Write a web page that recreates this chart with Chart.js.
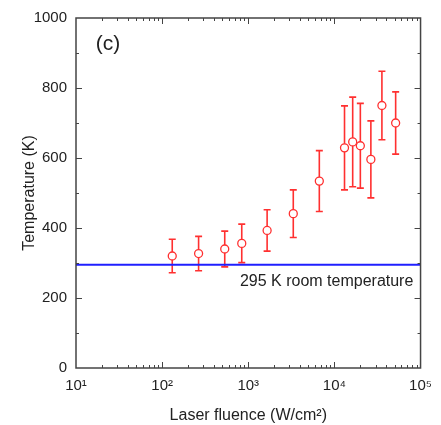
<!DOCTYPE html>
<html>
<head>
<meta charset="utf-8">
<script src="https://cdn.jsdelivr.net/npm/chart.js@4.4.1/dist/chart.umd.min.js"></script>
<style>
  html, body { margin: 0; padding: 0; background: #fff; }
  #wrap { width: 441px; height: 425px; }
</style>
</head>
<body>
<div id="wrap"><canvas id="tempChart"></canvas></div>
<script>
// values
const fluence = [131, 265, 533, 840, 1655, 3330, 6680, 13100, 16300, 20000, 26500, 35600, 51400];
const temperature = [320, 327, 340, 356, 393, 441, 534, 629, 646, 635, 596, 750, 700];
const tempError = [48, 49, 51, 55, 59, 68, 87, 120, 128, 121, 110, 98, 89];
const roomTemp = 295;
const xDecades = [10, 100, 1000, 10000, 100000];
const xDecadeLabels = ['10\u00b9', '10\u00b2', '10\u00b3', '10\u2074', '10\u2075'];
const yTicks = [0, 200, 400, 600, 800, 1000];

const red = '#ff3030';
const axisColor = '#444';
const fontFamily = "'Liberation Sans', Arial, sans-serif";

const errorBars = {
  id: 'errorBars',
  beforeDatasetsDraw(chart) {
    const ctx = chart.ctx;
    const x = chart.scales.x, y = chart.scales.y;
    ctx.save();
    ctx.strokeStyle = red;
    ctx.lineWidth = 1.6;
    fluence.forEach(function (f, i) {
      const px = x.getPixelForValue(f);
      const top = y.getPixelForValue(temperature[i] + tempError[i]);
      const bot = y.getPixelForValue(temperature[i] - tempError[i]);
      ctx.beginPath();
      ctx.moveTo(px, top); ctx.lineTo(px, bot);
      ctx.moveTo(px - 3.5, top); ctx.lineTo(px + 3.5, top);
      ctx.moveTo(px - 3.5, bot); ctx.lineTo(px + 3.5, bot);
      ctx.stroke();
    });
    ctx.restore();
  }
};

const frameAndTicks = {
  id: 'frameAndTicks',
  afterDraw(chart) {
    const ctx = chart.ctx;
    const a = chart.chartArea;
    const x = chart.scales.x, y = chart.scales.y;
    ctx.save();
    ctx.strokeStyle = axisColor;
    ctx.lineWidth = 1.5;
    ctx.strokeRect(a.left, a.top, a.right - a.left, a.bottom - a.top);
    ctx.lineWidth = 1;
    ctx.beginPath();
    // x ticks, inward, bottom and top
    xDecades.forEach(function (d, k) {
      for (let m = 1; m <= 9; m++) {
        const v = d * m;
        if (v > 100000 || (m === 1 && k === 0) || (m === 1 && k === xDecades.length - 1)) continue;
        const px = Math.round(x.getPixelForValue(v)) + 0.5;
        const len = m === 1 ? 6 : 3;
        ctx.moveTo(px, a.bottom); ctx.lineTo(px, a.bottom - len);
        ctx.moveTo(px, a.top); ctx.lineTo(px, a.top + len);
      }
    });
    // y ticks, inward, left and right
    for (let v = 100; v < 1000; v += 100) {
      const py = Math.round(y.getPixelForValue(v)) + 0.5;
      const len = v % 200 === 0 ? 6 : 3;
      ctx.moveTo(a.left, py); ctx.lineTo(a.left + len, py);
      ctx.moveTo(a.right, py); ctx.lineTo(a.right - len, py);
    }
    ctx.stroke();

    ctx.fillStyle = '#222';
    ctx.font = '21px ' + fontFamily;
    ctx.textBaseline = 'middle';
    ctx.fillText('(c)', x.getPixelForValue(17), y.getPixelForValue(924));
    ctx.font = '16px ' + fontFamily;
    ctx.fillText('295 K room temperature', x.getPixelForValue(800), y.getPixelForValue(246));
    ctx.restore();
  }
};

const ctx = document.getElementById('tempChart').getContext('2d');
const tempChart = new Chart(ctx, {
  type: 'scatter',
  data: {
    datasets: [{
      label: 'Temperature',
      data: fluence.map(function (f, i) { return { x: f, y: temperature[i] }; }),
      pointStyle: 'circle',
      pointRadius: 4,
      pointBorderWidth: 1.3,
      pointBorderColor: red,
      pointBackgroundColor: '#fff',
      showLine: false
    }, {
      label: 'Room temperature',
      data: [{ x: xDecades[0], y: roomTemp }, { x: xDecades[xDecades.length - 1], y: roomTemp }],
      showLine: true,
      borderColor: '#1f1fff',
      borderWidth: 2,
      pointRadius: 0
    }]
  },
  options: {
    responsive: true,
    maintainAspectRatio: false,
    animation: false,
    layout: { padding: { top: 15, right: 13, left: 0, bottom: 0 } },
    plugins: {
      legend: { display: false },
      tooltip: { enabled: false }
    },
    scales: {
      x: {
        type: 'logarithmic',
        min: 10,
        max: 100000,
        grid: { display: false, drawTicks: false },
        border: { display: false },
        afterBuildTicks: function (scale) {
          scale.ticks = xDecades.map(function (v) { return { value: v }; });
        },
        afterFit: function (scale) { scale.height = 57; },
        ticks: {
          padding: 9,
          color: '#222',
          font: { family: fontFamily, size: 15 },
          maxRotation: 0,
          autoSkip: false,
          callback: function (value) {
            const i = xDecades.indexOf(value);
            return i >= 0 ? xDecadeLabels[i] : '';
          }
        },
        title: {
          display: true,
          text: 'Laser fluence (W/cm\u00b2)',
          color: '#222',
          font: { family: fontFamily, size: 16 },
          padding: { top: 0, bottom: 0 }
        }
      },
      y: {
        min: 0,
        max: 1000,
        grid: { display: false, drawTicks: false },
        border: { display: false },
        afterBuildTicks: function (scale) {
          scale.ticks = yTicks.map(function (v) { return { value: v }; });
        },
        afterFit: function (scale) { scale.width = 76; },
        ticks: {
          padding: 9,
          color: '#222',
          font: { family: fontFamily, size: 15 },
          callback: function (value) { return String(value); }
        },
        title: {
          display: true,
          text: 'Temperature (K)',
          color: '#222',
          font: { family: fontFamily, size: 16 },
          padding: { top: 20, bottom: 0 }
        }
      }
    }
  },
  plugins: [errorBars, frameAndTicks]
});
</script>
</body>
</html>
